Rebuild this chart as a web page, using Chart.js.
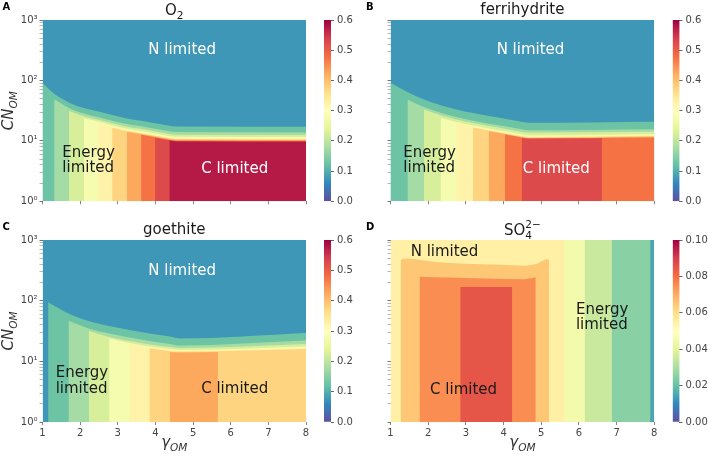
<!DOCTYPE html>
<html>
<head>
<meta charset="utf-8">
<title>Limitation regimes</title>
<script src="https://cdn.jsdelivr.net/npm/chart.js@4.4.1/dist/chart.umd.min.js"></script>
<style>
  html, body { margin:0; padding:0; background:#fff; }
  #fig { position:relative; width:708px; height:457px; overflow:hidden; background:#fff; }
  #fig canvas { position:absolute; }
</style>
</head>
<body>
<div id="fig">
  <canvas id="pA" width="354" height="218" style="left:0px;top:0px"></canvas>
  <canvas id="pB" width="354" height="218" style="left:354px;top:0px"></canvas>
  <canvas id="pC" width="354" height="239" style="left:0px;top:218px"></canvas>
  <canvas id="pD" width="354" height="239" style="left:354px;top:218px"></canvas>
  <canvas id="cA" width="44" height="218" style="left:316px;top:0px"></canvas>
  <canvas id="cB" width="44" height="218" style="left:664px;top:0px"></canvas>
  <canvas id="cC" width="44" height="239" style="left:316px;top:218px"></canvas>
  <canvas id="cD" width="44" height="239" style="left:664px;top:218px"></canvas>
</div>
<script>
// ================= DATA =================
const xTickValues = [1, 2, 3, 4, 5, 6, 7, 8];
const yMajorTicks = [1, 10, 100, 1000];
const yMinorSteps = [2, 3, 4, 5, 6, 7, 8, 9];
const cbTicksMain = [0, 0.1, 0.2, 0.3, 0.4, 0.5, 0.6];
const cbTicksSO4  = [0, 0.02, 0.04, 0.06, 0.08, 0.10];

// Panel A (O2): lower bound of each filled contour band and the band's upper edge [γOM, CNOM]
const o2Levels = [0.05, 0.10, 0.15, 0.20, 0.25, 0.30, 0.35, 0.40, 0.45, 0.50, 0.55];
const o2Edges = [
  [[1,1000],[8,1000]],
  [[1.0,90.7],[1.31,60.3],[1.7,43.3],[2.1,35.0],[2.49,30.6],[2.85,26.7],[3.24,23.5],[3.62,21.6],[3.99,19.6],[4.37,17.8],[4.55,17.3],[8,17.1]],
  [[1.31,48.7],[1.7,35.0],[2.1,28.3],[2.49,24.7],[2.85,21.6],[3.24,19.0],[3.62,17.4],[3.99,15.8],[4.37,14.4],[4.55,14.0],[8,13.8]],
  [[1.7,31.6],[2.1,25.5],[2.49,22.3],[2.85,19.5],[3.24,17.2],[3.62,15.8],[3.99,14.3],[4.37,13.0],[4.55,12.6],[8,12.5]],
  [[2.1,23.6],[2.49,20.7],[2.85,18.0],[3.24,15.9],[3.62,14.6],[3.99,13.2],[4.37,12.0],[4.55,11.7],[8,11.55]],
  [[2.49,19.5],[2.85,17.0],[3.24,15.0],[3.62,13.8],[3.99,12.5],[4.37,11.3],[4.55,11.0],[8,10.9]],
  [[2.85,16.5],[3.24,14.5],[3.62,13.3],[3.99,12.1],[4.37,11.0],[4.55,10.7],[8,10.55]],
  [[3.24,14.2],[3.62,13.0],[3.99,11.8],[4.37,10.7],[4.55,10.4],[8,10.3]],
  [[3.62,12.6],[3.99,11.5],[4.37,10.4],[4.55,10.1],[8,10.0]],
  [[3.99,11.3],[4.37,10.2],[4.55,9.95],[8,9.83]],
  [[4.37,10.1],[4.55,9.8],[8,9.66]]
];

// Panel B (ferrihydrite)
const ferriLevels = [0.05, 0.10, 0.15, 0.20, 0.25, 0.30, 0.35, 0.40, 0.45, 0.50];
const ferriEdges = [
  [[1,1000],[8,1000]],
  [[1.0,91.6],[1.45,64.6],[1.885,48.4],[2.33,38.9],[2.75,33.1],[3.19,28.8],[3.61,25.7],[4.035,23.2],[4.48,20.7],[4.65,20.0],[8,20.8]],
  [[1.45,48.4],[1.885,36.2],[2.33,29.1],[2.75,24.8],[3.19,21.6],[3.61,19.2],[4.035,17.4],[4.48,15.5],[4.65,15.0],[8,15.6]],
  [[1.885,33.1],[2.33,26.6],[2.75,22.6],[3.19,19.7],[3.61,17.6],[4.035,15.9],[4.48,14.1],[4.65,13.7],[8,14.2]],
  [[2.33,24.2],[2.75,20.6],[3.19,17.9],[3.61,16.0],[4.035,14.4],[4.48,12.9],[4.65,12.4],[8,12.9]],
  [[2.75,19.8],[3.19,17.2],[3.61,15.4],[4.035,13.9],[4.48,12.4],[4.65,12.0],[8,12.5]],
  [[3.19,16.6],[3.61,14.8],[4.035,13.3],[4.48,11.9],[4.65,11.5],[8,12.0]],
  [[3.61,14.4],[4.035,13.0],[4.48,11.6],[4.65,11.2],[8,11.65]],
  [[4.035,12.7],[4.48,11.4],[4.65,11.0],[8,11.4]],
  [[4.48,11.2],[4.65,10.8],[6.61,11.0]]
];

// Panel C (goethite)
const goeLevels = [0.05, 0.10, 0.15, 0.20, 0.25, 0.30, 0.35, 0.40];
const goeEdges = [
  [[1,1000],[8,1000]],
  [[1.15,94.0],[1.69,61.4],[2.23,46.2],[2.77,38.2],[3.31,32.9],[3.84,28.8],[4.38,25.7],[4.65,23.8],[8,29.3]],
  [[1.69,46.8],[2.23,34.8],[2.77,28.8],[3.31,24.7],[3.84,21.6],[4.38,19.3],[4.65,18.2],[8,22.0]],
  [[2.23,31.6],[2.77,25.2],[3.31,21.6],[3.84,18.9],[4.38,17.2],[4.65,16.6],[8,19.3]],
  [[2.77,24.0],[3.31,20.1],[3.84,17.6],[4.38,16.0],[4.65,15.4],[8,17.6]],
  [[3.31,19.8],[3.84,16.9],[4.38,15.4],[4.65,14.8],[8,16.6]],
  [[3.84,16.4],[4.38,14.8],[4.65,14.5],[8,16.0]],
  [[4.38,14.1],[4.65,14.0],[5.66,14.3]]
];

// Panel D (SO4 2-)  (band width 0.01)
const so4Levels = [0.05, 0.04, 0.03, 0.02, 0.01, 0.06, 0.07, 0.08];
const so4Edges = [
  [[1,1000],[8,1000]],
  [[5.61,1000],[8,1000]],
  [[6.15,1000],[8,1000]],
  [[6.87,1000],[8,1000]],
  [[7.89,1000],[8,1000]],
  [[1.27,470],[1.35,495],[2.14,440],[3.0,405],[3.9,390],[4.55,378],[4.9,410],[5.15,480],[5.21,470]],
  [[1.77,249],[2.5,240],[3.5,232],[4.5,225],[4.75,236],[4.855,243]],
  [[2.85,168],[4.23,168]]
];

// Region annotations
const o2Text = [
  {lines:['N limited'], x:4.71, y:313, align:'center', color:'#ffffff'},
  {lines:['Energy','limited'], x:1.526, y:4.71, align:'left', color:'#1a1a1a'},
  {lines:['C limited'], x:6.106, y:3.40, align:'center', color:'#ffffff'}
];
const ferriText = [
  {lines:['N limited'], x:4.715, y:313, align:'center', color:'#ffffff'},
  {lines:['Energy','limited'], x:1.34, y:4.71, align:'left', color:'#1a1a1a'},
  {lines:['C limited'], x:5.40, y:3.40, align:'center', color:'#ffffff'}
];
const goeText = [
  {lines:['N limited'], x:4.71, y:311, align:'center', color:'#ffffff'},
  {lines:['Energy','limited'], x:1.35, y:4.69, align:'left', color:'#1a1a1a'},
  {lines:['C limited'], x:6.106, y:3.46, align:'center', color:'#1a1a1a'}
];
const so4Text = [
  {lines:['N limited'], x:2.433, y:622, align:'center', color:'#1a1a1a'},
  {lines:['Energy','limited'], x:5.92, y:52.3, align:'left', color:'#1a1a1a'},
  {lines:['C limited'], x:2.94, y:3.40, align:'center', color:'#1a1a1a'}
];

// ================= STYLE / HELPERS =================
const FONT = '"DejaVu Sans"';
Chart.defaults.font.family = FONT;
Chart.defaults.color = '#444';
const SPECTRAL = ['#9e0142','#d53e4f','#f46d43','#fdae61','#fee08b','#ffffbf','#e6f598','#abdda4','#66c2a5','#3288bd','#5e4fa2'];
function rgbOf(h){ return [1,3,5].map(i => parseInt(h.substr(i,2),16)); }
function spectralR(t){
  t = Math.max(0, Math.min(1, t));
  const p = (1 - t) * 10, i = Math.min(9, Math.floor(p)), f = p - i;
  const a = rgbOf(SPECTRAL[i]), b = rgbOf(SPECTRAL[i+1]);
  return 'rgb(' + a.map((v,j) => Math.round(v + (b[j]-v)*f)).join(',') + ')';
}
const SUP = ['⁰','¹','²','³'];

function layerDatasets(levels, edges, vmax, step){
  const n = levels.length;
  return levels.map((lo, i) => ({
    data: edges[i].map(([x,y]) => ({x, y})),
    fill: 'start',
    backgroundColor: spectralR((lo + step/2) / vmax),
    borderColor: 'rgba(0,0,0,0)',
    borderWidth: 0,
    pointRadius: 0,
    cubicInterpolationMode: 'monotone',
    order: n - i
  }));
}

function richLayout(ctx, segs, size, style){
  const items = []; let x = 0, prevStart = 0;
  segs.forEach(s => {
    const fs = s.k === 'n' ? size : size * 0.7;
    const font = `${style} ${fs}px ${FONT}`;
    ctx.font = font;
    const w = ctx.measureText(s.t).width;
    const start = s.stack ? prevStart : x;
    const dy = s.k === 'sub' ? size * 0.28 : (s.k === 'sup' ? -size * 0.42 : 0);
    items.push({t:s.t, font, x:start, dy});
    if (!s.stack) prevStart = start;
    x = Math.max(x, start + w);
  });
  return {items, width:x};
}
function drawRich(ctx, segs, size, style, cx, baseY, color){
  const L = richLayout(ctx, segs, size, style);
  ctx.fillStyle = color; ctx.textBaseline = 'alphabetic'; ctx.textAlign = 'left';
  L.items.forEach(it => { ctx.font = it.font; ctx.fillText(it.t, cx - L.width/2 + it.x, baseY + it.dy); });
}

function decoPlugin(cfg){
  return {
    id: 'deco' + cfg.letter,
    afterDatasetsDraw(chart){
      const ctx = chart.ctx, xs = chart.scales.x, ys = chart.scales.y;
      ctx.save();
      ctx.font = `15px ${FONT}`;
      ctx.textBaseline = 'middle';
      cfg.labels.forEach(l => {
        const px = xs.getPixelForValue(l.x), py = ys.getPixelForValue(l.y);
        ctx.fillStyle = l.color; ctx.textAlign = l.align;
        const n = l.lines.length, lh = 15.6;
        l.lines.forEach((t, i) => ctx.fillText(t, px, py + (i - (n-1)/2) * lh));
      });
      ctx.restore();
    },
    afterDraw(chart){
      const ctx = chart.ctx, a = chart.chartArea;
      ctx.save();
      // panel title
      drawRich(ctx, cfg.title, 15, 'normal', (a.left + a.right)/2, cfg.titleBase, '#1a1a1a');
      // panel letter
      ctx.font = `bold 10px ${FONT}`; ctx.fillStyle = '#000'; ctx.textAlign = 'left'; ctx.textBaseline = 'alphabetic';
      ctx.fillText(cfg.letter, cfg.letterX, cfg.letterY);
      // y-axis title
      if (cfg.yTitle) {
        ctx.save();
        ctx.translate(cfg.yTitleX, (a.top + a.bottom)/2);
        ctx.rotate(-Math.PI/2);
        drawRich(ctx, [{t:'CN',k:'n'},{t:'OM',k:'sub'}], 15, 'italic', 0, 0, '#333');
        ctx.restore();
      }
      // x-axis title
      if (cfg.xTitle) {
        drawRich(ctx, [{t:'γ',k:'n'},{t:'OM',k:'sub'}], 15, 'italic', (a.left + a.right)/2, cfg.xTitleBase, '#333');
      }
      ctx.restore();
    }
  };
}

function makePanel(cfg){
  const yTicks = [];
  yMajorTicks.forEach((m, i) => {
    yTicks.push({value:m, major:true});
    if (i < yMajorTicks.length - 1) yMinorSteps.forEach(s => yTicks.push({value:m*s, major:false}));
  });
  new Chart(document.getElementById(cfg.id), {
    type: 'line',
    data: { datasets: layerDatasets(cfg.levels, cfg.edges, cfg.vmax, cfg.step) },
    options: {
      responsive:false, animation:false, events:[],
      layout:{ padding:{ left:0, top:cfg.padTop, right:cfg.padRight, bottom:0 } },
      plugins:{ legend:{display:false}, tooltip:{enabled:false} },
      scales:{
        x:{
          type:'linear', position:'bottom', min:1, max:8,
          afterBuildTicks: s => { s.ticks = xTickValues.map(v => ({value:v})); },
          ticks:{ display:cfg.showX, font:{size:10}, color:'#444', padding:2, autoSkip:false, maxRotation:0 },
          grid:{ drawOnChartArea:false, drawTicks:true, tickLength:3, tickColor:'#666', tickWidth:0.8 },
          border:{ display:false },
          afterFit: s => { s.height = cfg.xH; }
        },
        y:{
          type:'logarithmic', position:'left', min:1, max:1000,
          afterBuildTicks: s => { s.ticks = yTicks.map(t => ({value:t.value, major:t.major})); },
          ticks:{ autoSkip:false, font:{size:10}, color:'#444', padding:2,
            callback: v => (cfg.showY && yMajorTicks.includes(v)) ? '10' + SUP[Math.round(Math.log10(v))] : '' },
          grid:{ drawOnChartArea:false, drawTicks:true, tickLength:3,
            tickColor: c => (c.tick && c.tick.major) ? '#666' : '#999',
            tickWidth: c => (c.tick && c.tick.major) ? 0.9 : 0.7 },
          border:{ display:false },
          afterFit: s => { s.width = cfg.yW; }
        }
      }
    },
    plugins:[decoPlugin(cfg)]
  });
}

function makeColorbar(cfg){
  new Chart(document.getElementById(cfg.id), {
    type:'bar',
    data:{ labels:[''], datasets:[{
      data:[[0, cfg.vmax]],
      backgroundColor: c => {
        const a = c.chart.chartArea;
        if (!a) return '#888';
        const g = c.chart.ctx.createLinearGradient(0, a.bottom, 0, a.top);
        SPECTRAL.slice().reverse().forEach((col, i) => g.addColorStop(i/10, col));
        return g;
      },
      borderWidth:0, barPercentage:1, categoryPercentage:1
    }]},
    options:{
      responsive:false, animation:false, events:[],
      layout:{ padding:{ left:cfg.padLeft, top:cfg.padTop, bottom:cfg.padBottom, right:0 } },
      plugins:{ legend:{display:false}, tooltip:{enabled:false} },
      scales:{
        x:{ display:false },
        y:{ position:'right', min:0, max:cfg.vmax,
            afterBuildTicks: s => { s.ticks = cfg.ticks.map(v => ({value:v})); },
            ticks:{ autoSkip:false, font:{size:10}, color:'#444', padding:3, callback: v => v.toFixed(cfg.dec) },
            grid:{ drawOnChartArea:false, drawTicks:true, tickLength:3, tickColor:'#666' },
            border:{ display:false },
            afterFit: s => { s.width = cfg.axW; } }
      }
    }
  });
}

// ================= BUILD =================
makePanel({ id:'pA', levels:o2Levels, edges:o2Edges, vmax:0.6, step:0.05, labels:o2Text,
  padTop:20, padRight:48, xH:16.7, yW:42.5, showX:false, showY:true,
  title:[{t:'O',k:'n'},{t:'2',k:'sub'}], titleBase:14.5, letter:'A', letterX:2.5, letterY:10,
  yTitle:true, yTitleX:12.5, xTitle:false });
makePanel({ id:'pB', levels:ferriLevels, edges:ferriEdges, vmax:0.6, step:0.05, labels:ferriText,
  padTop:20, padRight:53.7, xH:16.7, yW:36.5, showX:false, showY:false,
  title:[{t:'ferrihydrite',k:'n'}], titleBase:13.5, letter:'B', letterX:12, letterY:10,
  yTitle:false, xTitle:false });
makePanel({ id:'pC', levels:goeLevels, edges:goeEdges, vmax:0.6, step:0.05, labels:goeText,
  padTop:22, padRight:48, xH:35, yW:42.5, showX:true, showY:true,
  title:[{t:'goethite',k:'n'}], titleBase:15.5, letter:'C', letterX:2.5, letterY:12,
  yTitle:true, yTitleX:12.5, xTitle:true, xTitleBase:228.5 });
makePanel({ id:'pD', levels:so4Levels, edges:so4Edges, vmax:0.1, step:0.01, labels:so4Text,
  padTop:22, padRight:53.7, xH:35, yW:36.5, showX:true, showY:false,
  title:[{t:'SO',k:'n'},{t:'4',k:'sub'},{t:'2−',k:'sup',stack:true}], titleBase:16.5, letter:'D', letterX:12, letterY:12,
  yTitle:false, xTitle:true, xTitleBase:228.5 });

makeColorbar({ id:'cA', vmax:0.6, ticks:cbTicksMain, dec:1, padLeft:8, padTop:20, padBottom:16.7, axW:29 });
makeColorbar({ id:'cB', vmax:0.6, ticks:cbTicksMain, dec:1, padLeft:8.7, padTop:20, padBottom:16.7, axW:28.5 });
makeColorbar({ id:'cC', vmax:0.6, ticks:cbTicksMain, dec:1, padLeft:8, padTop:22, padBottom:35, axW:29 });
makeColorbar({ id:'cD', vmax:0.1, ticks:cbTicksSO4, dec:2, padLeft:8.7, padTop:22, padBottom:35, axW:28.5 });
</script>
</body>
</html>
